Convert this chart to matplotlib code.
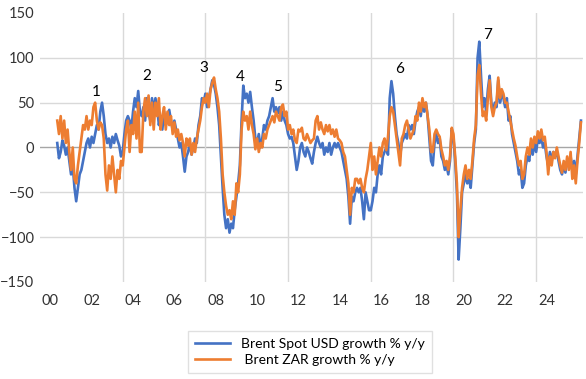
import matplotlib.pyplot as plt
import numpy as np

# monthly y/y growth, Nov 2000 .. Mar 2026
usd = [
    5, -12,                                                   # 2000 Nov-Dec
    -5, 8, 2, -8, 0, -15, -30, -20, -45, -60, -45, -30,       # 2001
    -25, -15, -5, 5, 10, 0, 12, 5, 15, 25, 20, 40,            # 2002
    50, 35, 15, 5, 10, 0, 12, 5, 15, 8, 2, -10,               # 2003
    -5, 15, 30, 35, 30, 20, 40, 55, 45, 63, 40, 35,           # 2004
    45, 30, 55, 40, 30, 55, 40, 55, 45, 25, 35, 20,           # 2005
    40, 25, 30, 42, 30, 20, 30, 20, 10, 0, 5, -10,            # 2006
    -27, -10, -5, 5, -8, 0, 10, 5, 25, 35, 55, 50,            # 2007
    60, 45, 55, 65, 75, 70, 60, 45, 25, -10, -45, -75,        # 2008
    -90, -80, -95, -85, -90, -70, -55, -40, -20, 30, 69, 55,  # 2009
    60, 50, 62, 45, 30, 10, 5, 15, 0, 10, 25, 20,             # 2010
    30, 35, 45, 55, 40, 45, 38, 45, 30, 40, 30, 25,           # 2011
    15, 10, 12, 5, -10, -25, -15, 0, 5, -5, -10, 0,           # 2012
    -5, -12, -18, -5, 5, 12, 5, 0, 5, -8, 0, -5,              # 2013
    5, -8, 0, 5, 0, 5, 0, -5, -15, -25, -35, -55,             # 2014
    -85, -55, -60, -50, -45, -50, -45, -60, -80, -50, -60, -70,  # 2015
    -70, -60, -45, -50, -30, -20, -30, -10, -5, 0, -8, 55,    # 2016
    74, 60, 35, 15, 5, -10, 5, 10, 15, 10, 25, 20,            # 2017
    25, 15, 30, 40, 45, 35, 50, 40, 50, 35, 10, -15,          # 2018
    -20, 5, 15, 5, 10, -10, -15, -25, -20, -30, -15, 20,      # 2019
    10, -15, -50, -125, -90, -50, -40, -30, -40, -35, -45, -20,  # 2020
    5, 20, 100, 118, 80, 45, 55, 40, 65, 80, 50, 40,          # 2021
    50, 45, 75, 50, 60, 55, 45, 55, 30, 35, 15, 5,            # 2022
    -5, -15, -30, -25, -45, -40, -20, -10, -15, 5, -8, 5,     # 2023
    -5, 10, 5, 12, 0, 5, -10, -20, -5, -15, -5, -10,          # 2024
    -5, -15, -25, -30, -20, -28, -15, -20, -10, -25, -15, -30,  # 2025
    -10, 10, 30,                                              # 2026
]
zar = [
    30, 15,
    35, 10, 30, 5, 20, -5, -25, 0, -35, -40, -20, -5,
    10, 25, 20, 35, 20, 30, 25, 45, 50, 30, 20, 28,
    25, 10, -30, -48, -20, -35, -10, -30, -50, -25, -35, -15,
    -20, 0, 20, 30, -5, 25, 15, 40, 10, 50, -5, -5,
    40, 55, 35, 58, 25, 50, 20, 50, 35, 55, 20, 35,
    45, 20, 40, 25, 35, 15, 28, 12, 20, 8, 15, 5,
    -10, 10, 2, 10, -8, 5, -5, 10, 20, 30, 45, 55,
    50, 60, 45, 65, 72, 78, 65, 55, 40, 10, -30, -50,
    -65, -75, -70, -80, -60, -75, -40, -50, -30, 20, 40, 30,
    35, 20, 40, 25, 15, -2, 10, -5, 5, 0, 15, 10,
    20, 25, 30, 35, 28, 40, 35, 30, 45, 48, 35, 40,
    20, 25, 15, 20, 8, 5, 20, 18, 22, 10, 8, 15,
    10, 5, 8, 10, 30, 35, 20, 28, 20, 15, 25, 18,
    25, 15, 20, 12, 20, 10, 8, 5, -5, -10, -25, -40,
    -75, -45, -50, -35, -35, -40, -35, -45, -50, -35, -25, -10,
    5, -25, -10, -30, -15, 0, -10, 5, 10, -3, 12, 35,
    45, 40, 25, 10, -5, -20, 10, 15, 25, 30, 20, 10,
    15, 20, 35, 30, 50, 40, 55, 45, 50, 35, 20, -5,
    -5, 15, 20, 15, 12, -2, -10, -20, -15, -25, -10, 22,
    15, -10, -40, -100, -70, -45, -30, -20, -35, -25, -35, -15,
    10, 25, 80, 92, 60, 35, 40, 30, 55, 75, 45, 35,
    45, 50, 78, 55, 65, 60, 50, 50, 40, 30, 20, 10,
    2, -10, -20, -15, -35, -30, -10, 0, -8, 10, 0, 12,
    5, 18, 10, 20, 8, 12, -5, -30, -10, -20, -5, -12,
    0, -10, -20, -28, -15, -25, -10, -25, -5, -35, -20, -40,
    -15, 5, 28,
]

# numbered episodes: (label, decimal year, value)
notes = [('1', 2002.71, 62), ('2', 2005.18, 80), ('3', 2007.93, 89),
         ('4', 2009.68, 79), ('5', 2011.47, 68), ('6', 2017.37, 88),
         ('7', 2021.63, 126)]

years_lbl = ['00', '02', '04', '06', '08', '10', '12', '14', '16', '18', '20', '22', '24']

t = 2000 + (10 + np.arange(len(usd))) / 12.0

plt.rcParams['font.family'] = ['Lato', 'DejaVu Sans']
fig = plt.figure(figsize=(5.86, 3.79), dpi=100)
ax = fig.add_axes([0.0683, 0.256, 0.9267, 0.7097])

ax.plot(t, usd, color='#4472C4', lw=1.9, label='Brent Spot USD growth % y/y')
ax.plot(t, zar, color='#ED7D31', lw=1.9, label=' Brent ZAR growth % y/y')

for txt, x, y in notes:
    ax.text(x, y, txt, ha='center', va='center', fontsize=11, color='black')

ax.set_xlim(2000, 2026.27)
ax.set_ylim(-150, 150)
ax.set_yticks(np.arange(-150, 151, 50))
ax.set_xticks([2000.5 + 2 * i for i in range(len(years_lbl))])
ax.set_xticklabels(years_lbl)
ax.set_xticks(np.arange(2004, 2025, 4), minor=True)
ax.tick_params(which='both', length=0, labelsize=10.5, colors='#333333')
ax.tick_params(axis='y', pad=4)
ax.tick_params(axis='x', pad=9)
ax.grid(which='minor', axis='x', color='#D9D9D9', lw=1)
for v in [-100, -50, 50, 100]:
    ax.axhline(v, color='#D9D9D9', lw=1, zorder=0)
ax.axhline(0, color='#A6A6A6', lw=1, zorder=0.5)
for s in ax.spines.values():
    s.set_visible(False)
ax.set_axisbelow(True)

leg = fig.legend(loc='center', bbox_to_anchor=(0.529, 0.071), fontsize=10,
                 frameon=True, fancybox=False, edgecolor='#D9D9D9',
                 handlelength=2.5, borderpad=0.5, labelspacing=0.3)
leg.get_frame().set_linewidth(1)

fig.savefig('out.png', dpi=100)
